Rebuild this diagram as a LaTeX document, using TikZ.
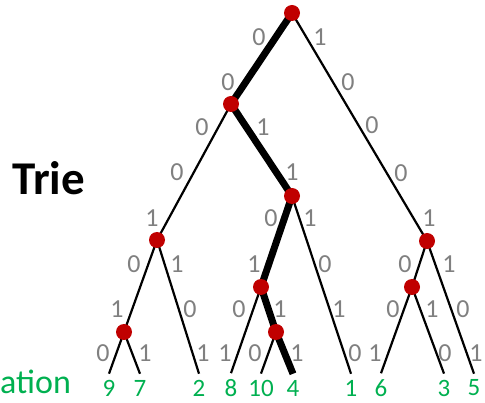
\documentclass[tikz,border=0pt]{standalone}
\usepackage{fontspec}
\setmainfont{Carlito}
\definecolor{triered}{HTML}{C00000}
\definecolor{triegray}{HTML}{808080}
\definecolor{triegreen}{HTML}{00B050}
\usetikzlibrary{backgrounds}
\tikzset{
    triedot/.style={
        circle,
        fill=triered,
        inner sep=0pt,
        minimum size=16pt
    },
    trieedge/.style={
        draw=black,
        line width=2.2pt
    },
    triepath/.style={
        draw=black,
        line width=7pt
    },
    triebit/.style={
        text=triegray,
        inner sep=0pt,
        font=\fontsize{26}{26}\selectfont
    },
    trieleaf/.style={
        text=triegreen,
        inner sep=6pt,
        font=\fontsize{25}{25}\selectfont
    }
}

\begin{document}
\begin{tikzpicture}[x=1pt,y=-1pt]
        \useasboundingbox (0,0) rectangle (485,403);

        % inner nodes, named by their bit prefix
        \node[triedot] (root) at (292,13) {};
        \node[triedot] (p00) at (231,104) {};
        \node[triedot] (p0011) at (292,196) {};
        \node[triedot] (p00001) at (157,240) {};
        \node[triedot] (p0000101) at (124,332) {};
        \node[triedot] (p001101) at (261,287) {};
        \node[triedot] (p0011011) at (276,332) {};
        \node[triedot] (p10001) at (427,241) {};
        \node[triedot] (p100010) at (412,287) {};

        % leaves
        \node[trieleaf] (leaf9) at (109,388) {9};
        \node[trieleaf] (leaf7) at (140,388) {7};
        \node[trieleaf] (leaf2) at (199,388) {2};
        \node[trieleaf] (leaf8) at (231,388) {8};
        \node[trieleaf] (leaf10) at (261,388) {10};
        \node[trieleaf] (leaf4) at (293,388) {4};
        \node[trieleaf] (leaf1) at (351,388) {1};
        \node[trieleaf] (leaf6) at (381,388) {6};
        \node[trieleaf] (leaf3) at (444,388) {3};
        \node[trieleaf] (leaf5) at (474,388) {5};

        \begin{pgfonlayer}{background}
            \draw[triepath] (root.center) -- (p00.center);
            \draw[triepath] (p00.center) -- (p0011.center);
            \draw[triepath] (p0011.center) -- (p001101.center);
            \draw[triepath] (p001101.center) -- (p0011011.center);
            \draw[triepath] (p0011011.center) -- (leaf4.north);

            \draw[trieedge] (root.center) -- (p10001.center);
            \draw[trieedge] (p00.center) -- (p00001.center);
            \draw[trieedge] (p00001.center) -- (p0000101.center);
            \draw[trieedge] (p0000101.center) -- (leaf9.north);
            \draw[trieedge] (p0000101.center) -- (leaf7.north);
            \draw[trieedge] (p00001.center) -- (leaf2.north);
            \draw[trieedge] (p0011.center) -- (leaf1.north);
            \draw[trieedge] (p001101.center) -- (leaf8.north);
            \draw[trieedge] (p0011011.center) -- (leaf10.north);
            \draw[trieedge] (p10001.center) -- (p100010.center);
            \draw[trieedge] (p10001.center) -- (leaf5.north);
            \draw[trieedge] (p100010.center) -- (leaf6.north);
            \draw[trieedge] (p100010.center) -- (leaf3.north);
        \end{pgfonlayer}

        % bit labels along the edges
        \foreach \x/\y/\b [count=\i] in {
            259/37/0, 320/37/1,
            228/82/0, 348/82/0,
            202/127/0, 263/127/1, 372/125/0,
            177/172/0, 292/172/1, 401/173/0,
            152/218/1, 271/218/0, 310/218/1, 429/218/1,
            134/264/0, 177/264/1, 254/264/1, 325/264/0, 405/264/0, 449/264/1,
            117/309/1, 190/309/0, 239/309/0, 280/309/1, 339/309/1, 393/309/0, 432/309/1, 463/309/0,
            103/353/0, 145/353/1, 203/353/1, 225/353/1, 255/353/0, 297/353/1, 355/353/0, 375/353/1, 445/353/0, 476/353/1}
            \node[triebit] (bit\i) at (\x,\y) {\b};

        \node[anchor=base west,inner sep=0pt,font=\bfseries\fontsize{47}{47}\selectfont] (title) at (12,195) {Trie};
        \node[anchor=base west,inner sep=0pt,text=triegreen,font=\fontsize{34}{34}\selectfont] (caption) at (0,394) {ation};
    \end{tikzpicture}
\end{document}
